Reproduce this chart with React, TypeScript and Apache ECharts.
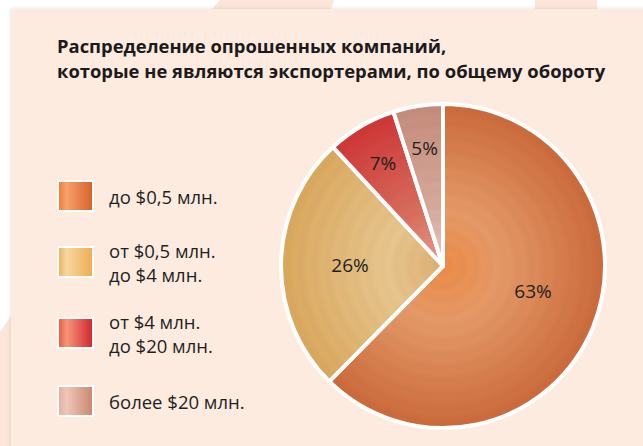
import React, { useEffect, useRef } from "react";
import * as echarts from "echarts";

const titleLines = [
  "Распределение опрошенных компаний,",
  "которые не являются экспортерами, по общему обороту",
];
const categories = [
  "до $0,5 млн.",
  "от $0,5 млн.\nдо $4 млн.",
  "от $4 млн.\nдо $20 млн.",
  "более $20 млн.",
];
const shares = [63, 26, 7, 5];

// slice radial colours: [center, middle, outer]
const sliceColors = [
  ["#ee8c48", "#e69a68", "#cc6a3b"],
  ["#dfb072", "#e8c68e", "#dba85e"],
  ["#e7a090", "#d9705f", "#cf3636"],
  ["#e8cbc2", "#d8ab9c", "#c68c7a"],
];
// legend swatch colours: [left, highlight, right]
const legendColors = [
  ["#f07c38", "#f6a06a", "#d8602a"],
  ["#eab060", "#f7d6a0", "#eeac50"],
  ["#e8583e", "#f69478", "#cf2630"],
  ["#e0ae9e", "#f0c6b8", "#c8866e"],
];
const legendTops = [180, 238, 309, 385];

const CX = 443;
const CY = 266;
const R = 162;

function hexToRgb(h: string) {
  const n = parseInt(h.slice(1), 16);
  return [(n >> 16) & 255, (n >> 8) & 255, n & 255];
}
function mix(a: string, b: string, t: number, shade = 0) {
  const A = hexToRgb(a);
  const B = hexToRgb(b);
  const c = A.map((v, i) => Math.max(0, Math.min(255, Math.round((v + (B[i] - v) * t) * (1 - shade)))));
  return `rgb(${c[0]},${c[1]},${c[2]})`;
}
function ringStops(cols: string[]) {
  const stops: { offset: number; color: string }[] = [];
  const rings = 12;
  for (let i = 0; i <= rings * 2; i++) {
    const o = i / (rings * 2);
    const base = o < 0.35 ? [cols[0], cols[1], o / 0.35] : [cols[1], cols[2], (o - 0.35) / 0.65];
    const shade = i % 2 === 1 ? 0.02 : 0;
    stops.push({ offset: o, color: mix(base[0] as string, base[1] as string, base[2] as number, shade) });
  }
  return stops;
}

export default function App() {
  const ref = useRef<HTMLDivElement>(null);
  useEffect(() => {
    if (!ref.current) return;
    const chart = echarts.init(ref.current, undefined, { renderer: "svg" });
    const pieData = shares.map((v, i) => ({
      name: categories[i],
      value: v,
      itemStyle: {
        color: {
          type: "radial",
          x: CX,
          y: CY,
          r: R,
          global: true,
          colorStops: ringStops(sliceColors[i]),
        },
      },
    }));
    const labelFont = { fontFamily: "Open Sans", fontSize: 19, color: "#231f20" };
    const labelSeries = (radius: number, show: number[], layout: any) => ({
      type: "pie",
      center: [CX, CY],
      radius: [0, radius],
      silent: true,
      z: 5,
      startAngle: 90,
      itemStyle: { color: "transparent", borderWidth: 0 },
      labelLine: { show: false },
      labelLayout: layout,
      data: shares.map((v, i) => ({
        name: categories[i],
        value: v,
        label: {
          show: show.includes(i),
          position: "inside",
          formatter: `${v}%`,
          ...labelFont,
        },
      })),
    });
    chart.setOption({
      animation: false,
      backgroundColor: "#ffffff",
      graphic: [
        { type: "polygon", shape: { points: [[220, 0], [334, 0], [331, 9], [212, 9]] }, style: { fill: "#fce6da" }, z: 0 },
        { type: "rect", shape: { x: 535, y: 0, width: 62, height: 9 }, style: { fill: "#fce6da" }, z: 0 },
        { type: "polygon", shape: { points: [[11, 316], [0, 332], [0, 446], [11, 446]] }, style: { fill: "#fce6da" }, z: 0 },
        {
          type: "rect",
          shape: { x: 11, y: 9, width: 640, height: 445 },
          style: { fill: "#fdebe0", shadowBlur: 4, shadowColor: "rgba(0,0,0,0.12)" },
          z: 1,
        },
      ],
      title: {
        text: titleLines.join("\n"),
        left: 57,
        top: 33,
        padding: 0,
        textStyle: {
          fontFamily: "Open Sans",
          fontWeight: "bold",
          fontSize: 18.4,
          lineHeight: 25,
          color: "#1c1a1a",
        },
      },
      legend: categories.map((c, i) => ({
        left: 57,
        top: legendTops[i],
        padding: 0,
        orient: "vertical",
        selectedMode: false,
        itemWidth: 35,
        itemHeight: 30,
        icon: "rect",
        textStyle: {
          fontFamily: "Open Sans",
          fontSize: 18.5,
          lineHeight: 24,
          color: "#231f20",
          padding: [0, 0, 0, 11],
        },
        data: [
          {
            name: c,
            itemStyle: {
              color: {
                type: "linear",
                x: 0,
                y: 0,
                x2: 1,
                y2: 0,
                colorStops: [
                  { offset: 0, color: legendColors[i][0] },
                  { offset: 0.25, color: legendColors[i][1] },
                  { offset: 1, color: legendColors[i][2] },
                ],
              },
            },
          },
        ],
      })),
      series: [
        {
          type: "pie",
          center: [CX, CY],
          radius: [0, R],
          startAngle: 90,
          z: 3,
          silent: true,
          itemStyle: { borderColor: "#ffffff", borderWidth: 4 },
          label: { show: false },
          labelLine: { show: false },
          data: pieData,
        },
        labelSeries(180, [0, 1], (p: any) => (p.dataIndex === 0 ? { dx: 4, dy: -10 } : {})),
        labelSeries(232, [2, 3], {}),
      ],
    });
    return () => chart.dispose();
  }, []);
  return <div ref={ref} style={{ position: "fixed", left: 0, top: 0, width: 643, height: 446 }} />;
}
